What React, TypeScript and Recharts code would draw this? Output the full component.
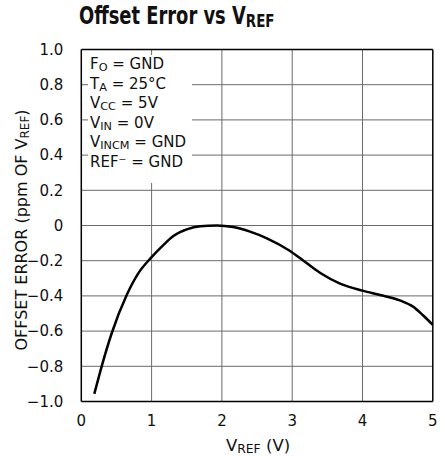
import { Line, LineChart, ReferenceLine, XAxis, YAxis } from 'recharts'

const vref = [0.185, 0.29, 0.43, 0.646, 0.81, 1.0, 1.17, 1.31, 1.5, 1.69, 1.93, 2.16, 2.4, 2.64, 2.97, 3.16, 3.4, 3.68, 4.0, 4.25, 4.53, 4.72, 4.86, 5.0]
const offsetError = [-0.957, -0.8, -0.615, -0.395, -0.272, -0.18, -0.11, -0.06, -0.022, -0.004, 0.0, -0.009, -0.035, -0.073, -0.145, -0.2, -0.27, -0.33, -0.37, -0.395, -0.425, -0.461, -0.51, -0.565]

const xTicks = [0, 1, 2, 3, 4, 5]
const yTicks = [-1.0, -0.8, -0.6, -0.4, -0.2, 0, 0.2, 0.4, 0.6, 0.8, 1.0]

const data = vref.map((v, i) => ({ v, err: offsetError[i] }))

const FONT = '"DejaVu Sans", sans-serif'

function fmtY(value: number): string {
  if (value === 0) return '0'
  const s = Math.abs(value).toFixed(1)
  return value < 0 ? `\u2212${s}` : s
}

const sub = { fontSize: '0.75em', verticalAlign: '-0.18em', lineHeight: 0 } as const
const row = { height: 19.6, lineHeight: '19.6px' } as const
const tickStyle = { fontSize: 15, fill: '#111', fontFamily: FONT }

export default function App() {
  return (
    <div
      style={{
        position: 'absolute',
        left: 0,
        top: 0,
        width: 445,
        height: 456,
        background: '#fff',
        fontFamily: FONT,
        overflow: 'hidden',
      }}
    >
      <div
        style={{
          position: 'absolute',
          left: 79,
          top: 1,
          fontSize: 24.5,
          fontWeight: 'bold',
          color: '#111',
          whiteSpace: 'nowrap',
          transform: 'scaleX(0.73)',
          transformOrigin: 'left top',
        }}
      >
        Offset Error vs V<span style={sub}>REF</span>
      </div>

      <LineChart width={445} height={456} data={data} margin={{ top: 49.5, right: 12.2, left: 21.3, bottom: 24.5 }}>
        <XAxis
          dataKey="v"
          type="number"
          domain={[0, 5]}
          ticks={xTicks}
          height={30}
          axisLine={{ stroke: '#000', strokeWidth: 1.5 }}
          tickLine={false}
          tick={tickStyle}
          tickMargin={8}
        />
        <YAxis
          type="number"
          domain={[-1, 1]}
          ticks={yTicks}
          width={60}
          axisLine={{ stroke: '#000', strokeWidth: 1.5 }}
          tickLine={false}
          tick={tickStyle}
          tickFormatter={fmtY}
          tickMargin={12}
        />
        {xTicks.slice(1, -1).map((t) => (
          <ReferenceLine key={`x${t}`} x={t} stroke="#6a6a6a" strokeWidth={1} />
        ))}
        {yTicks.slice(1, -1).map((t) => (
          <ReferenceLine key={`y${t}`} y={t} stroke="#6a6a6a" strokeWidth={1} />
        ))}
        <ReferenceLine y={1} stroke="#000" strokeWidth={1.5} />
        <ReferenceLine x={5} stroke="#000" strokeWidth={1.5} />
        <Line
          dataKey="err"
          type="monotone"
          stroke="#000"
          strokeWidth={2.5}
          dot={false}
          isAnimationActive={false}
        />
      </LineChart>

      <div
        style={{
          position: 'absolute',
          left: 88,
          top: 55,
          width: 104,
          height: 128,
          background: '#fff',
          fontSize: 15,
          color: '#111',
          paddingLeft: 2,
          boxSizing: 'border-box',
          whiteSpace: 'nowrap',
        }}
      >
        <div style={row}>F<span style={sub}>O</span> = GND</div>
        <div style={row}>T<span style={sub}>A</span> = 25°C</div>
        <div style={row}>V<span style={sub}>CC</span> = 5V</div>
        <div style={row}>V<span style={sub}>IN</span> = 0V</div>
        <div style={row}>V<span style={sub}>INCM</span> = GND</div>
        <div style={row}>REF⁻ = GND</div>
      </div>

      <div style={{ position: 'absolute', left: 258, top: 436, transform: 'translateX(-50%)', fontSize: 16.5, color: '#111', whiteSpace: 'nowrap' }}>
        V<span style={sub}>REF</span> (V)
      </div>

      <div
        style={{
          position: 'absolute',
          left: 21,
          top: 230,
          transform: 'translate(-50%, -50%) rotate(-90deg)',
          fontSize: 16,
          color: '#111',
          whiteSpace: 'nowrap',
        }}
      >
        OFFSET ERROR (ppm OF V<span style={sub}>REF</span>)
      </div>
    </div>
  )
}
